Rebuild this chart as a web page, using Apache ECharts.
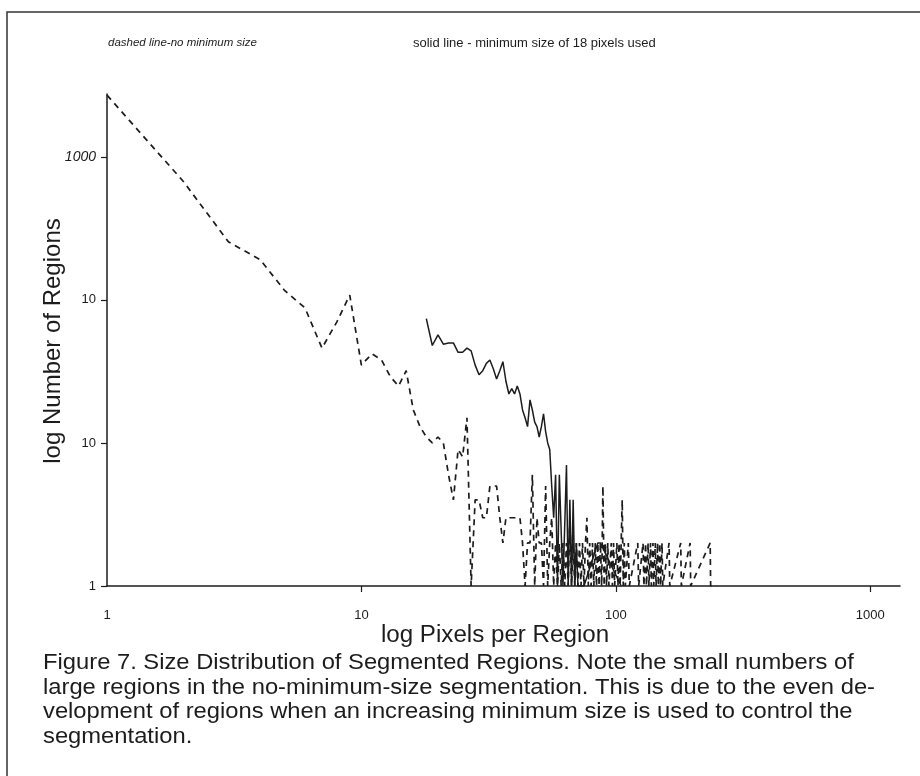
<!DOCTYPE html>
<html>
<head>
<meta charset="utf-8">
<script src="https://cdn.jsdelivr.net/npm/echarts@6/dist/echarts.min.js"></script>
<style>
  html, body { margin: 0; padding: 0; background: #fff; }
  #chart { width: 920px; height: 776px; }
</style>
</head>
<body>
<div id="chart"></div>
<script>
// Region size (pixels) and number of regions of that size, no minimum size
const dashedSizes = [
  1, 2, 3, 4, 5, 6, 7, 8, 9, 10, 11, 12, 13, 14, 15, 16, 17, 18, 19, 20,
  21, 22, 23, 24, 25, 26, 27, 28, 29, 30, 31, 32, 33, 34, 35, 36, 37, 38, 39, 40,
  41, 42, 43, 44, 45, 46, 47, 48, 49, 50, 51, 52, 53, 54, 55, 56, 57, 58, 59, 60,
  61, 62, 63, 64, 65, 66, 67, 68, 69, 70, 71, 72, 73, 74, 75, 76, 77, 78, 79, 80,
  81, 82, 83, 84, 85, 86, 87, 88, 89, 90, 91, 92, 93, 94, 95, 96, 97, 98, 99, 100,
  101, 102, 103, 104, 105, 106, 107, 108, 109, 112, 113, 122, 123, 128, 129, 131, 132,
  134, 135, 137, 138, 140, 141, 143, 144, 146, 147, 149, 150, 152, 153, 162, 163,
  180, 181, 196, 197, 235, 236, 250
];
const dashedCounts = [
  2700, 670, 255, 191, 116, 88, 46, 70, 108, 35, 42, 38, 29, 25, 32, 17, 13, 11, 10, 11,
  10, 6, 4, 9, 8, 15, 1, 4, 4, 3, 3, 5, 5, 5, 3, 2, 3, 3, 3, 3,
  3, 3, 2, 1, 2, 2, 6, 1, 3, 2, 2, 1, 5, 1, 2, 3, 1, 2, 1, 2,
  1, 2, 1, 2, 1, 3, 1, 2, 1, 2, 1, 2, 1, 2, 1, 2, 3, 1, 2, 1,
  2, 1, 2, 1, 2, 1, 2, 1, 5, 1, 2, 1, 2, 1, 1, 2, 1, 2, 1, 1,
  2, 1, 2, 1, 1, 4, 1, 2, 1, 2, 1, 2, 1, 2, 1, 2, 1,
  2, 1, 2, 1, 2, 1, 2, 1, 2, 1, 2, 1, 2, 1, 2, 1,
  2, 1, 2, 1, 2, 1, 1
];

// Region size and number of regions, minimum size of 18 pixels
const solidSizes = [
  18, 19, 20, 21, 22, 23, 24, 25, 26, 27, 28, 29, 30, 31, 32, 33, 34, 35, 36, 37,
  38, 39, 40, 41, 42, 43, 44, 45, 46, 47, 48, 49, 50, 51, 52, 53, 54, 55, 56, 57,
  58, 59, 60, 61, 62, 64, 65, 66, 67, 68, 69, 70, 71, 75, 85, 87, 105
];
const solidCounts = [
  74, 48, 57, 49, 50, 50, 43, 43, 46, 44, 35, 30, 32, 36, 38, 33, 28, 32, 37, 27,
  22, 24, 22, 25, 22, 17, 15, 13, 20, 17, 14, 13, 11, 13, 16, 12, 10, 9, 5, 3,
  6, 1, 6, 6, 1, 7, 1, 4, 1, 4, 1, 2, 1, 1, 2, 2, 1
];

// Axis ticks and their printed labels
const xTickValues = [1, 10, 100, 1000];
const xTickLabels = ['1', '10', '100', '1000'];
const yTickValues = [1, 10, 100, 1000];
const yTickLabels = ['1', '10', '10', '1000'];

const captionLines = [
  'Figure 7. Size Distribution of Segmented Regions. Note the small numbers of',
  'large regions in the no-minimum-size segmentation. This is due to the even de-',
  'velopment of regions when an increasing minimum size is used to control the',
  'segmentation.'
];

const INK = '#1c1c1c';
const SANS = "'Liberation Sans', Arial, Helvetica, sans-serif";

function pairs(xs, ys) {
  return xs.map((x, i) => [x, ys[i]]);
}

const chart = echarts.init(document.getElementById('chart'), null, { renderer: 'canvas' });

// caption set in a slightly stretched face
const captionGraphics = captionLines.map((line, i) => ({
  type: 'text',
  x: 43,
  y: 663 + i * 24.6,
  scaleX: 1.08,
  style: {
    text: line,
    fill: INK,
    font: '22px ' + SANS,
    verticalAlign: 'middle'
  }
}));

chart.setOption({
  backgroundColor: '#ffffff',
  animation: false,
  grid: { left: 107, right: 20, top: 94, bottom: 190 },
  xAxis: {
    type: 'log',
    logBase: 10,
    min: 1,
    max: 1310,
    axisLine: { show: true, lineStyle: { color: INK, width: 1.5 } },
    axisTick: {
      show: true,
      length: 6,
      lineStyle: { color: INK, width: 1.2 },
      customValues: xTickValues.slice(1)
    },
    axisLabel: {
      customValues: xTickValues,
      margin: 23,
      color: INK,
      fontSize: 13,
      fontFamily: SANS,
      formatter: v => {
        const k = xTickValues.indexOf(Math.round(v));
        return k >= 0 ? xTickLabels[k] : '';
      }
    },
    splitLine: { show: false },
    minorTick: { show: false }
  },
  yAxis: {
    type: 'log',
    logBase: 10,
    min: 1,
    max: 2750,
    axisLine: { show: true, lineStyle: { color: INK, width: 1.5 } },
    axisTick: {
      show: true,
      length: 6,
      lineStyle: { color: INK, width: 1.2 },
      customValues: yTickValues
    },
    axisLabel: {
      customValues: yTickValues,
      margin: 11,
      color: INK,
      fontSize: 13,
      fontFamily: SANS,
      formatter: v => {
        const k = yTickValues.indexOf(Math.round(v));
        if (k < 0) return '';
        return v >= 1000 ? '{i|' + yTickLabels[k] + '}' : yTickLabels[k];
      },
      rich: {
        i: { fontStyle: 'italic', fontSize: 14, fontFamily: SANS, color: INK }
      }
    },
    splitLine: { show: false },
    minorTick: { show: false }
  },
  series: [
    {
      name: 'dashed line-no minimum size',
      type: 'line',
      data: pairs(dashedSizes, dashedCounts),
      showSymbol: false,
      lineStyle: { color: INK, width: 1.7, type: [6, 5] },
      z: 3
    },
    {
      name: 'solid line - minimum size of 18 pixels used',
      type: 'line',
      data: pairs(solidSizes, solidCounts),
      showSymbol: false,
      lineStyle: { color: INK, width: 1.5, type: 'solid' },
      z: 4
    }
  ],
  graphic: [
    // outer figure frame
    {
      type: 'polyline',
      shape: { points: [[7, 776], [7, 12], [920, 12]] },
      style: { stroke: '#333', lineWidth: 1.5, fill: null }
    },
    {
      type: 'text',
      x: 108,
      y: 43,
      style: {
        text: 'dashed line-no minimum size',
        fill: INK,
        font: 'italic 11.5px ' + SANS,
        verticalAlign: 'middle'
      }
    },
    {
      type: 'text',
      x: 413,
      y: 43,
      style: {
        text: 'solid line - minimum size of 18 pixels used',
        fill: INK,
        font: '13px ' + SANS,
        verticalAlign: 'middle'
      }
    },
    {
      type: 'text',
      x: 53,
      y: 341,
      rotation: Math.PI / 2,
      style: {
        text: 'log Number of Regions',
        fill: INK,
        font: '24px ' + SANS,
        align: 'center',
        verticalAlign: 'middle'
      }
    },
    {
      type: 'text',
      x: 495,
      y: 636,
      scaleX: 1.05,
      style: {
        text: 'log Pixels per Region',
        fill: INK,
        font: '23px ' + SANS,
        align: 'center',
        verticalAlign: 'middle'
      }
    }
  ].concat(captionGraphics)
});
</script>
</body>
</html>
